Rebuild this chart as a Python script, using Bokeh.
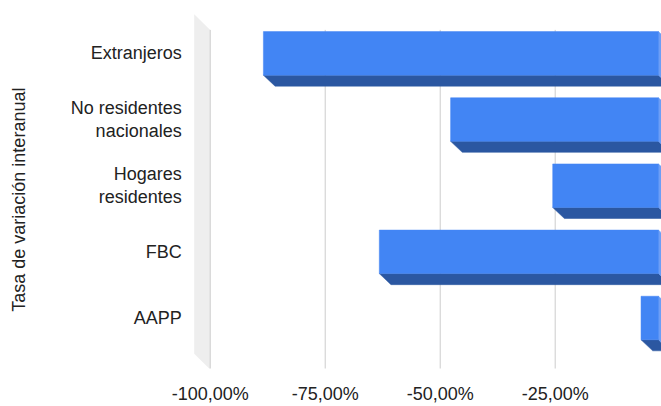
import math
from bokeh.plotting import figure
from bokeh.models import Range1d, FixedTicker
from bokeh.core.properties import value
from bokeh.embed import file_html
from bokeh.resources import INLINE

# ---- data ----
categories = ["Extranjeros", "No residentes\nnacionales", "Hogares\nresidentes", "FBC", "AAPP"]
values = [-85.9, -45.2, -23.0, -60.7, -3.8]
tick_values = [-100, -75, -50, -25]
tick_labels = ["-100,00%", "-75,00%", "-50,00%", "-25,00%"]
axis_title = "Tasa de variación interanual"

# ---- style / layout constants ----
W, H = 661, 406
BORDER_BOTTOM = 30
FONT = value("Liberation Sans")
TEXT_COLOR = "#222222"
FRONT = "#4285f4"
BOTTOM = "#2b57a1"
SIDE = "#6d9ef6"
WALL = "#eeeeee"
GRID = "#cccccc"

BAR_DX, BAR_DY, BAR_HALF = 2.54, 0.167, 0.329
WALL_DX, WALL_DY = 3.48, 0.237
PLOT_TOP, PLOT_BOT = -0.522, 4.611
LABEL_X = -106.2
TITLE_X, TITLE_Y = -141.5, 2.044

p = figure(width=W, height=H, output_backend="svg", toolbar_location=None,
           x_range=Range1d(-145.59, -1.891), y_range=Range1d(4.596, -0.966),
           y_axis_location=None,
           min_border_left=0, min_border_right=0, min_border_top=0,
           min_border_bottom=BORDER_BOTTOM)
p.outline_line_color = None
p.grid.visible = False
p.background_fill_color = "white"
p.border_fill_color = "white"

# left wall
xmin = tick_values[0]
p.patch([xmin, xmin, xmin - WALL_DX, xmin - WALL_DX],
        [PLOT_TOP, PLOT_BOT, PLOT_BOT - WALL_DY, PLOT_TOP - WALL_DY],
        fill_color=WALL, line_color=None)

# gridlines on back plane
p.segment(x0=tick_values, y0=[PLOT_TOP] * len(tick_values),
          x1=tick_values, y1=[PLOT_BOT] * len(tick_values),
          line_color=GRID, line_width=1)

# 3D bars
idx = list(range(len(categories)))
bot_xs, bot_ys, side_xs, side_ys = [], [], [], []
for i, v in zip(idx, values):
    bot_xs.append([v - BAR_DX, -BAR_DX, 0, v])
    bot_ys.append([i - BAR_DY + BAR_HALF, i - BAR_DY + BAR_HALF, i + BAR_HALF, i + BAR_HALF])
    side_xs.append([-BAR_DX, 0, 0, -BAR_DX])
    side_ys.append([i - BAR_DY - BAR_HALF, i - BAR_HALF, i + BAR_HALF, i - BAR_DY + BAR_HALF])
p.patches(bot_xs, bot_ys, fill_color=BOTTOM, line_color=BOTTOM, line_width=0.5)
p.patches(side_xs, side_ys, fill_color=SIDE, line_color=SIDE, line_width=0.5)
p.quad(left=[v - BAR_DX for v in values], right=[-BAR_DX] * len(values),
       top=[i - BAR_DY - BAR_HALF for i in idx], bottom=[i - BAR_DY + BAR_HALF for i in idx],
       fill_color=FRONT, line_color=FRONT, line_width=0.5)

# category labels
p.text(x=[LABEL_X] * len(categories), y=[i - BAR_DY for i in idx], text=categories,
       text_align="right", text_baseline="middle", text_font=FONT,
       text_font_size="18px", text_color=TEXT_COLOR, text_line_height=1.17)

# axis title
p.text(x=[TITLE_X], y=[TITLE_Y], text=[axis_title], angle=math.pi / 2,
       text_align="center", text_baseline="middle", text_font=FONT,
       text_font_size="18px", text_color=TEXT_COLOR)

# x axis
ax = p.xaxis[0]
ax.ticker = FixedTicker(ticks=tick_values)
ax.major_label_overrides = dict(zip(tick_values, tick_labels))
ax.axis_line_color = None
ax.major_tick_line_color = None
ax.minor_tick_line_color = None
ax.major_label_standoff = 9
ax.major_label_text_font = "Liberation Sans"
ax.major_label_text_font_size = "18px"
ax.major_label_text_color = TEXT_COLOR

open("out.html", "w").write(file_html(p, INLINE))
